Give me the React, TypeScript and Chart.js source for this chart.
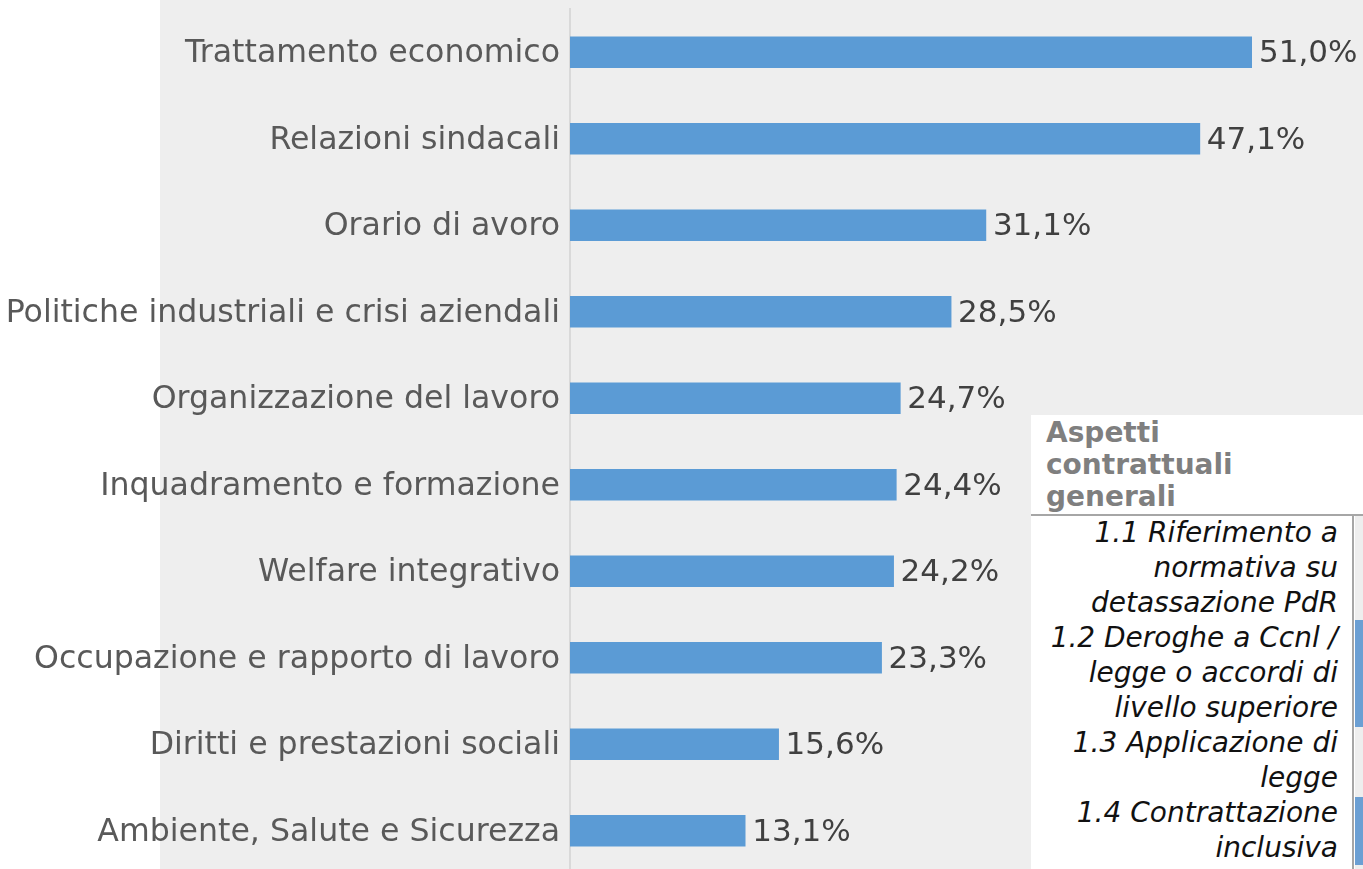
import React, { useEffect, useRef } from "react";
import { Chart, registerables } from "chart.js";

Chart.register(...registerables);

const categories: string[] = [
  "Trattamento economico",
  "Relazioni sindacali",
  "Orario di avoro",
  "Politiche industriali e crisi aziendali",
  "Organizzazione del lavoro",
  "Inquadramento e formazione",
  "Welfare integrativo",
  "Occupazione e rapporto di lavoro",
  "Diritti e prestazioni sociali",
  "Ambiente, Salute e Sicurezza",
];

const values: number[] = [51.0, 47.1, 31.1, 28.5, 24.7, 24.4, 24.2, 23.3, 15.6, 13.1];

const panelTitle: string[] = ["Aspetti", "contrattuali", "generali"];

const panelItems: string[][] = [
  ["1.1 Riferimento a", "normativa su", "detassazione PdR"],
  ["1.2 Deroghe a Ccnl /", "legge o accordi di", "livello superiore"],
  ["1.3 Applicazione di", "legge"],
  ["1.4 Contrattazione", "inclusiva"],
];

const FONT = "'DejaVu Sans', sans-serif";

const bgPlugin = {
  id: "bgPlugin",
  beforeDraw(chart: any) {
    const ctx = chart.ctx;
    ctx.save();
    ctx.fillStyle = "#eeeeee";
    ctx.fillRect(160, 0, chart.width - 160, chart.height);
    ctx.restore();
  },
};

const valueLabels = {
  id: "valueLabels",
  afterDatasetsDraw(chart: any) {
    const ctx = chart.ctx;
    const meta = chart.getDatasetMeta(0);
    ctx.save();
    ctx.font = `31px ${FONT}`;
    ctx.fillStyle = "#404040";
    ctx.textAlign = "left";
    ctx.textBaseline = "middle";
    meta.data.forEach((bar: any, i: number) => {
      const txt = values[i].toFixed(1).replace(".", ",") + "%";
      ctx.fillText(txt, bar.x + 7, bar.y + 2);
    });
    ctx.restore();
  },
};

export default function App() {
  const ref = useRef<HTMLCanvasElement | null>(null);

  useEffect(() => {
    if (!ref.current) return;
    const chart = new Chart(ref.current, {
      type: "bar",
      data: {
        labels: categories,
        datasets: [
          {
            data: values,
            backgroundColor: "#5b9bd5",
            barThickness: 31,
          },
        ],
      },
      options: {
        indexAxis: "y",
        animation: false,
        responsive: false,
        devicePixelRatio: 1,
        layout: { padding: { left: 0, right: 111, top: 9, bottom: 6 } },
        plugins: { legend: { display: false }, tooltip: { enabled: false } },
        scales: {
          x: { display: false, min: 0, max: 51 },
          y: {
            grid: { display: false, drawTicks: false },
            border: { display: true, color: "#d9d9d9", width: 2 },
            ticks: {
              autoSkip: false,
              padding: 10,
              labelOffset: 2,
              color: "#595959",
              font: { family: FONT, size: 31.6 },
            },
            afterFit(scale: any) {
              scale.width = 570;
              scale.paddingTop = 0;
              scale.paddingBottom = 0;
            },
          },
        },
      },
      plugins: [bgPlugin, valueLabels],
    });
    return () => chart.destroy();
  }, []);

  return (
    <div
      style={{
        position: "absolute",
        left: 0,
        top: 0,
        width: 1363,
        height: 869,
        overflow: "hidden",
        background: "#ffffff",
      }}
    >
      <canvas ref={ref} width={1363} height={880} style={{ display: "block" }} />
      <div
        style={{
          position: "absolute",
          left: 1031,
          top: 415,
          width: 332,
          height: 454,
          background: "#ffffff",
          fontFamily: FONT,
        }}
      >
        <div
          style={{
            position: "absolute",
            left: 15,
            top: 2,
            fontWeight: "bold",
            fontSize: 28,
            lineHeight: "32px",
            color: "#7f7f7f",
          }}
        >
          {panelTitle.map((t, i) => (
            <div key={i}>{t}</div>
          ))}
        </div>
        <div
          style={{
            position: "absolute",
            left: 0,
            top: 99,
            width: 332,
            height: 2,
            background: "#a6a6a6",
          }}
        />
        <div
          style={{
            position: "absolute",
            left: 321,
            top: 101,
            width: 2,
            height: 353,
            background: "#a6a6a6",
          }}
        />
        <div
          style={{
            position: "absolute",
            left: 324,
            top: 101,
            width: 8,
            height: 353,
            background: "#eeeeee",
          }}
        />
        <div
          style={{
            position: "absolute",
            left: 324,
            top: 205,
            width: 8,
            height: 107,
            background: "#6b9fd3",
          }}
        />
        <div
          style={{
            position: "absolute",
            left: 324,
            top: 382,
            width: 8,
            height: 68,
            background: "#6b9fd3",
          }}
        />
        <div
          style={{
            position: "absolute",
            right: 25,
            top: 100,
            textAlign: "right",
            fontStyle: "italic",
            fontSize: 28,
            lineHeight: "35px",
            color: "#111111",
            whiteSpace: "nowrap",
          }}
        >
          {panelItems.map((lines, i) => (
            <div key={i}>
              {lines.map((l, j) => (
                <div key={j}>{l}</div>
              ))}
            </div>
          ))}
        </div>
      </div>
    </div>
  );
}
